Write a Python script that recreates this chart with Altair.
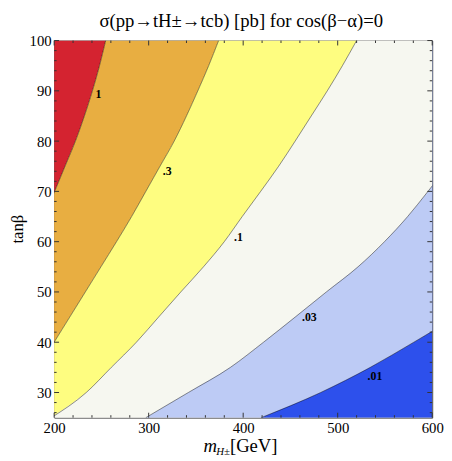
import altair as alt
import pandas as pd

# ---------------- data ----------------
# contour positions: m_H± [GeV] of each cross-section contour at given tanβ
tanb = [25, 30, 35, 40, 45, 50, 55, 60, 65, 70, 75, 80, 85, 90, 95, 100]
m_sigma_1 = [94, 106, 118, 130, 142, 154, 166, 178, 189, 200.5, 211.5, 222.5, 232, 240.5, 248, 254.5]
m_sigma_03 = [150, 167, 184, 200, 216.5, 233, 249.5, 266, 282, 297, 312, 327, 340, 352, 363.5, 374]
m_sigma_01 = [197, 234, 260.5, 287, 310.5, 334, 358, 380, 399, 418.5, 437.5, 455, 472, 489, 505, 520]
m_sigma_003 = [297, 342, 386.5, 421.5, 455, 488, 521.5, 549.5, 574, 595.5, 616, 635, 653, 670, 686, 702]
m_sigma_001 = [419, 482, 534.5, 580.5, 625, 668, 710, 750, 790, 828, 865, 900, 935, 968, 1000, 1032]

contour_levels = ["1", ".3", ".1", ".03", ".01"]
region_names = [">1", "0.3-1", "0.1-0.3", "0.03-0.1", "0.01-0.03", "<0.01"]
region_colors = ["#D42330", "#E8AE41", "#FEFD80", "#F6F7F0", "#BDCBF5", "#2D50EC"]

label_text = ["1", ".3", ".1", ".03", ".01"]
label_m = [246.8, 319.5, 395, 470, 539.4]
label_tanb = [89.3, 74, 61, 45.1, 33.3]

x_domain = [200, 600]
y_domain = [25, 100]
x_major = [200, 300, 400, 500, 600]
x_minor = [220, 240, 260, 280, 320, 340, 360, 380, 420, 440, 460, 480, 520, 540, 560, 580]
y_major = [30, 40, 50, 60, 70, 80, 90, 100]
y_minor = [26, 28, 32, 34, 36, 38, 42, 44, 46, 48, 52, 54, 56, 58, 62, 64, 66, 68,
           72, 74, 76, 78, 82, 84, 86, 88, 92, 94, 96, 98]

title_text = "σ(pp→tH±→tcb) [pb] for cos(β−α)=0"

# ---------------- build tables ----------------
curves = [m_sigma_1, m_sigma_03, m_sigma_01, m_sigma_003, m_sigma_001]
bounds = [[x_domain[0]] * len(tanb)] + curves + [[x_domain[1]] * len(tanb)]
rows = []
for i, name in enumerate(region_names):
    for k, t in enumerate(tanb):
        rows.append({"region": name, "tanb": t, "lo": bounds[i][k], "hi": bounds[i + 1][k]})
regions_df = pd.DataFrame(rows)

lrows = []
for lev, c in zip(contour_levels, curves):
    for t, m in zip(tanb, c):
        lrows.append({"level": lev, "tanb": t, "m": m})
lines_df = pd.DataFrame(lrows)

labels_df = pd.DataFrame({"text": label_text, "m": label_m, "tanb": label_tanb})

W, H = 385, 384
SERIF = "Liberation Serif"

xs = alt.Scale(domain=x_domain, nice=False, zero=False)
ys = alt.Scale(domain=y_domain, nice=False, zero=False)
X_AX = alt.Axis(values=x_major, title=None, grid=False, domain=False, ticks=False,
                labelFont=SERIF, labelFontSize=15, labelColor="black", labelPadding=3,
                labelFlush=False)
Y_AX = alt.Axis(values=y_major, title=None, grid=False, domain=False, ticks=False,
                labelFont=SERIF, labelFontSize=15, labelColor="black", labelPadding=3)

areas = alt.Chart(regions_df).mark_area(orient="horizontal", interpolate="monotone", clip=True).encode(
    y=alt.Y("tanb:Q", scale=ys, axis=Y_AX),
    x=alt.X("lo:Q", scale=xs, axis=X_AX),
    x2="hi:Q",
    color=alt.Color("region:N", scale=alt.Scale(domain=region_names, range=region_colors), legend=None),
    detail="region:N",
)

lines = alt.Chart(lines_df).mark_line(interpolate="monotone", clip=True, color="black",
                                      strokeOpacity=0.45, strokeWidth=1).encode(
    x=alt.X("m:Q", scale=xs, axis=X_AX),
    y=alt.Y("tanb:Q", scale=ys, axis=Y_AX),
    detail="level:N",
    order="tanb:Q",
)

labels = alt.Chart(labels_df).mark_text(font=SERIF, fontSize=12, fontWeight="bold", color="black").encode(
    x=alt.X("m:Q", scale=xs, axis=X_AX),
    y=alt.Y("tanb:Q", scale=ys, axis=Y_AX),
    text="text:N",
)

TICK_COLOR = "#333333"


def xticks(vals, length, top):
    df = pd.DataFrame({"v": vals})
    if top:
        yy, yy2 = 0, length
    else:
        yy, yy2 = H, H - length
    return alt.Chart(df).mark_rule(color=TICK_COLOR, strokeWidth=1).encode(
        x=alt.X("v:Q", scale=xs, axis=X_AX), y=alt.value(yy), y2=alt.value(yy2))


def yticks(vals, length, right):
    df = pd.DataFrame({"v": vals})
    if right:
        xx, xx2 = W, W - length
    else:
        xx, xx2 = 0, length
    return alt.Chart(df).mark_rule(color=TICK_COLOR, strokeWidth=1).encode(
        y=alt.Y("v:Q", scale=ys, axis=Y_AX), x=alt.value(xx), x2=alt.value(xx2))


ticks = [
    xticks(x_major, 5, False), xticks(x_minor, 2.5, False),
    xticks(x_major, 5, True), xticks(x_minor, 2.5, True),
    yticks(y_major, 5, False), yticks(y_minor, 2.5, False),
    yticks(y_major, 5, True), yticks(y_minor, 2.5, True),
]

one = pd.DataFrame({"a": [0]})
title = alt.Chart(one).mark_text(text=title_text, font=SERIF, fontSize=19, color="black",
                                 align="center", baseline="alphabetic").encode(
    x=alt.value(W / 2 - 2), y=alt.value(-14))
ytitle = alt.Chart(one).mark_text(text="tanβ", font=SERIF, fontSize=17, color="black",
                                  align="center", baseline="middle", angle=270).encode(
    x=alt.value(-37), y=alt.value(H / 2))
xt_m = alt.Chart(one).mark_text(text="m", font=SERIF, fontSize=19, fontStyle="italic", color="black",
                                align="left", baseline="alphabetic").encode(
    x=alt.value(152), y=alt.value(419))
xt_sub = alt.Chart(one).mark_text(text="H±", font=SERIF, fontSize=11, fontStyle="italic", color="black",
                                  align="left", baseline="alphabetic").encode(
    x=alt.value(165), y=alt.value(422))
xt_gev = alt.Chart(one).mark_text(text="[GeV]", font=SERIF, fontSize=19, color="black",
                                  align="left", baseline="alphabetic").encode(
    x=alt.value(179), y=alt.value(419))

chart = alt.layer(areas, lines, labels, *ticks, title, ytitle, xt_m, xt_sub, xt_gev).properties(
    width=W, height=H,
    autosize=alt.AutoSizeParams(type="none"),
    padding={"left": 47, "top": 29, "right": 12, "bottom": 40},
    background="white",
).configure_view(stroke="#444444", strokeWidth=1)

chart.save("out.html", embed_options={"renderer": "svg", "actions": False})
